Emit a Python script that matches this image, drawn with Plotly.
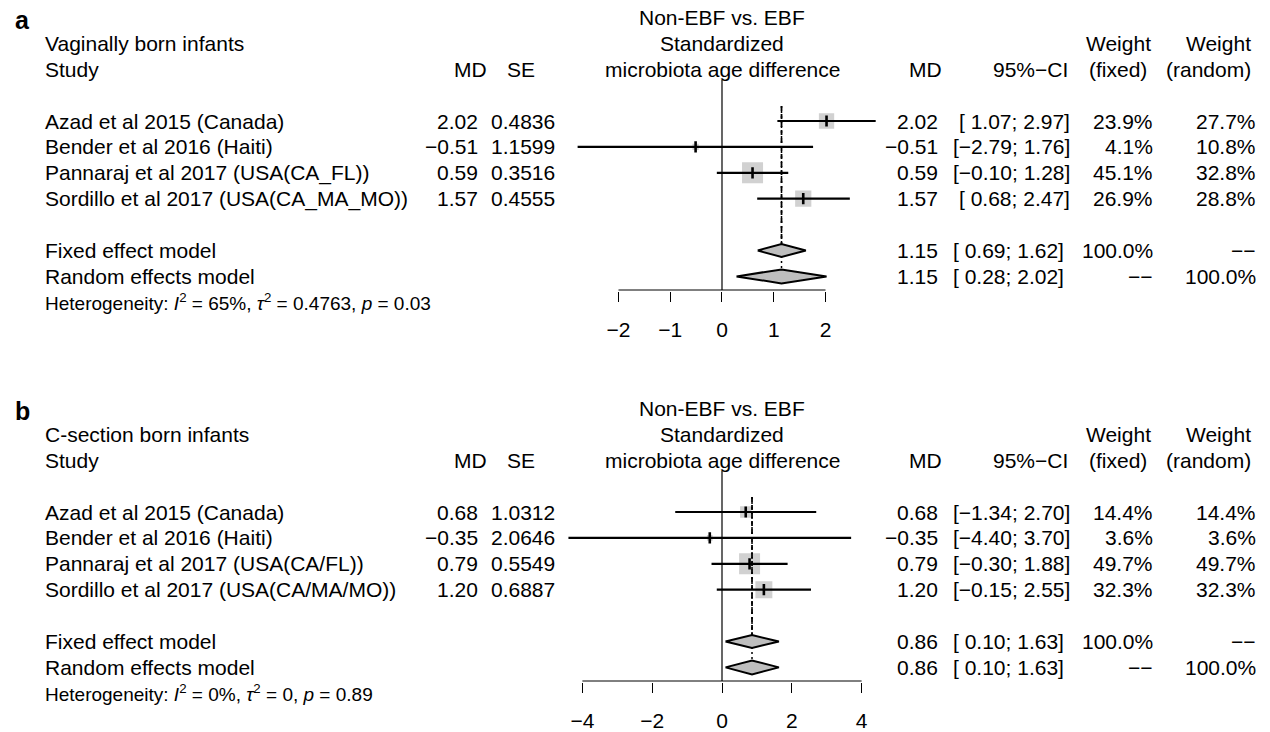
import math
import plotly.graph_objects as go

W, H = 1270, 732
FONT = "Liberation Sans, Arial, sans-serif"
GREY = "#BEBEBE"

# ---------------- data ----------------
studies_a = ["Azad et al 2015 (Canada)", "Bender et al 2016 (Haiti)",
             "Pannaraj et al 2017 (USA(CA_FL))", "Sordillo et al 2017 (USA(CA_MA_MO))"]
md_a = [2.02, -0.51, 0.59, 1.57]
se_a = [0.4836, 1.1599, 0.3516, 0.4555]
lo_a = [1.07, -2.79, -0.10, 0.68]
hi_a = [2.97, 1.76, 1.28, 2.47]
wfix_a = [23.9, 4.1, 45.1, 26.9]
wran_a = [27.7, 10.8, 32.8, 28.8]
pooled_md_a = [1.15, 1.15]          # fixed, random
pooled_lo_a = [0.69, 0.28]
pooled_hi_a = [1.62, 2.02]
het_a = {"I2": "65%", "tau2": "0.4763", "p": "0.03"}

studies_b = ["Azad et al 2015 (Canada)", "Bender et al 2016 (Haiti)",
             "Pannaraj et al 2017 (USA(CA/FL))", "Sordillo et al 2017 (USA(CA/MA/MO))"]
md_b = [0.68, -0.35, 0.79, 1.20]
se_b = [1.0312, 2.0646, 0.5549, 0.6887]
lo_b = [-1.34, -4.40, -0.30, -0.15]
hi_b = [2.70, 3.70, 1.88, 2.55]
wfix_b = [14.4, 3.6, 49.7, 32.3]
wran_b = [14.4, 3.6, 49.7, 32.3]
pooled_md_b = [0.86, 0.86]
pooled_lo_b = [0.10, 0.10]
pooled_hi_b = [1.63, 1.63]
het_b = {"I2": "0%", "tau2": "0", "p": "0.89"}

ticks_a = [-2, -1, 0, 1, 2]
ticks_b = [-4, -2, 0, 2, 4]
ticklabels_a = ["−2", "−1", "0", "1", "2"]
ticklabels_b = ["−4", "−2", "0", "2", "4"]

model_labels = ["Fixed effect model", "Random effects model"]

# ---------------- layout geometry (pixels) ----------------
ROW0 = 121.0        # first study row centre within a panel
ROWH = 25.9         # row pitch
ZERO_PX = 722.0     # x pixel of the null line
PLOT_TOP = 80.0     # top of the forest area
AXIS_PX = 290.0     # axis line


def fmt(v, nd=2):
    s = f"{v:.{nd}f}"
    return s.replace("-", "−")


def ci_txt(lo, hi):
    lo_s = fmt(lo)
    if lo >= 0:
        lo_s = " " + lo_s
    return f"[{lo_s}; {fmt(hi)}]"


def w_txt(w):
    return "−−" if w is None else f"{w:.1f}%"


panels = [
    dict(tag="a", title="Vaginally born infants", dy=0.0, unit=51.75, xr=(-2.9, 3.1),
         studies=studies_a, md=md_a, se=se_a, lo=lo_a, hi=hi_a, wf=wfix_a, wr=wran_a,
         pmd=pooled_md_a, plo=pooled_lo_a, phi=pooled_hi_a, het=het_a,
         ticks=ticks_a, ticklabels=ticklabels_a),
    dict(tag="b", title="C-section born infants", dy=391.0, unit=34.9, xr=(-4.6, 4.3),
         studies=studies_b, md=md_b, se=se_b, lo=lo_b, hi=hi_b, wf=wfix_b, wr=wran_b,
         pmd=pooled_md_b, plo=pooled_lo_b, phi=pooled_hi_b, het=het_b,
         ticks=ticks_b, ticklabels=ticklabels_b),
]

fig = go.Figure()
annotations = []
layout_axes = {}


def txt(x_px, y_px, text, anchor="left", size=21, bold=False):
    annotations.append(dict(
        x=x_px / W, y=1 - y_px / H, xref="paper", yref="paper",
        text=f"<b>{text}</b>" if bold else text, showarrow=False,
        xanchor=anchor, yanchor="middle",
        font=dict(family=FONT, size=size, color="black")))


for i, p in enumerate(panels):
    xa = "x" if i == 0 else f"x{i + 1}"
    ya = "y" if i == 0 else f"y{i + 1}"
    dy = p["dy"]

    def row_px(r):
        return dy + ROW0 + ROWH * r

    r_top = (PLOT_TOP - ROW0) / ROWH
    r_axis = (AXIS_PX - ROW0) / ROWH
    r_bot = (AXIS_PX + 1 - ROW0) / ROWH

    x0 = ZERO_PX + p["unit"] * p["xr"][0]
    x1 = ZERO_PX + p["unit"] * p["xr"][1]
    layout_axes["xaxis" if i == 0 else f"xaxis{i + 1}"] = dict(
        domain=[x0 / W, x1 / W], range=list(p["xr"]), anchor=ya,
        showgrid=False, zeroline=False, showline=False,
        ticks="outside", ticklen=10, tickwidth=1, tickcolor="black",
        tickvals=p["ticks"], ticktext=p["ticklabels"], ticklabelstandoff=10,
        tickfont=dict(family=FONT, size=21, color="black"), fixedrange=True)
    layout_axes["yaxis" if i == 0 else f"yaxis{i + 1}"] = dict(
        domain=[1 - (dy + AXIS_PX + 1) / H, 1 - (dy + PLOT_TOP) / H],
        range=[r_bot, r_top], anchor=xa, visible=False, fixedrange=True)

    n = len(p["studies"])
    rows = list(range(n))
    pooled_rows = [n + 1, n + 2]

    # null line and axis baseline
    fig.add_trace(go.Scatter(x=[0, 0], y=[r_top, r_axis], mode="lines",
                             line=dict(color="black", width=1.2), xaxis=xa, yaxis=ya,
                             hoverinfo="skip"))
    fig.add_trace(go.Scatter(x=[p["ticks"][0], p["ticks"][-1]], y=[r_axis, r_axis],
                             mode="lines", line=dict(color="black", width=1),
                             xaxis=xa, yaxis=ya, hoverinfo="skip"))

    # study squares (area ~ fixed-effect weight)
    wmax = max(p["wf"])
    sizes = [21 * math.sqrt(w / wmax) for w in p["wf"]]
    fig.add_trace(go.Scatter(x=p["md"], y=rows, mode="markers",
                             marker=dict(symbol="square", size=sizes, color=GREY,
                                         line=dict(width=0)),
                             xaxis=xa, yaxis=ya, hoverinfo="skip"))

    # pooled estimate reference lines: fixed (dashed) and random (dotted)
    dash_top = -0.58
    fig.add_trace(go.Scatter(x=[p["pmd"][0]] * 2, y=[dash_top, pooled_rows[0] - 0.25],
                             mode="lines", line=dict(color="black", width=1.8, dash="5px,3px"),
                             xaxis=xa, yaxis=ya, hoverinfo="skip"))
    fig.add_trace(go.Scatter(x=[p["pmd"][1]] * 2, y=[dash_top, pooled_rows[1] - 0.27],
                             mode="lines", line=dict(color="black", width=1.5, dash="2px,3px"),
                             xaxis=xa, yaxis=ya, hoverinfo="skip"))

    # confidence intervals
    cx, cy = [], []
    for lo, hi, r in zip(p["lo"], p["hi"], rows):
        cx += [lo, hi, None]
        cy += [r, r, None]
    fig.add_trace(go.Scatter(x=cx, y=cy, mode="lines", line=dict(color="black", width=2.2),
                             xaxis=xa, yaxis=ya, hoverinfo="skip"))
    fig.add_trace(go.Scatter(x=p["md"], y=rows, mode="markers",
                             marker=dict(symbol="line-ns", size=8,
                                         line=dict(color="black", width=2.6)),
                             xaxis=xa, yaxis=ya, hoverinfo="skip"))

    # pooled diamonds
    for k, r in enumerate(pooled_rows):
        h = 0.25 if k == 0 else 0.27
        m, lo, hi = p["pmd"][k], p["plo"][k], p["phi"][k]
        fig.add_trace(go.Scatter(x=[lo, m, hi, m, lo], y=[r, r - h, r, r + h, r],
                                 mode="lines", fill="toself", fillcolor=GREY,
                                 line=dict(color="black", width=2),
                                 xaxis=xa, yaxis=ya, hoverinfo="skip"))

    # ---- text columns ----
    txt(13, dy + 20, p["tag"], size=25, bold=True)
    txt(43, row_px(-3), p["title"])
    txt(43, row_px(-2), "Study")
    txt(471, row_px(-2), "MD", anchor="center")
    txt(521, row_px(-2), "SE", anchor="center")
    txt(ZERO_PX, row_px(-4), "Non-EBF vs. EBF", anchor="center")
    txt(ZERO_PX, row_px(-3), "Standardized", anchor="center")
    txt(ZERO_PX, row_px(-2), "microbiota age difference", anchor="center")
    txt(926, row_px(-2), "MD", anchor="center")
    txt(1070, row_px(-2), "95%−CI", anchor="right")
    txt(1118, row_px(-3), "Weight", anchor="center")
    txt(1118, row_px(-2), "(fixed)", anchor="center")
    txt(1253, row_px(-3), "Weight", anchor="right")
    txt(1253, row_px(-2), "(random)", anchor="right")

    for j, r in enumerate(rows):
        y = row_px(r)
        txt(43, y, p["studies"][j])
        txt(480, y, fmt(p["md"][j]), anchor="right")
        txt(557, y, fmt(p["se"][j], 4), anchor="right")
        txt(940, y, fmt(p["md"][j]), anchor="right")
        txt(1072, y, ci_txt(p["lo"][j], p["hi"][j]), anchor="right")
        txt(1155, y, w_txt(p["wf"][j]), anchor="right")
        txt(1258, y, w_txt(p["wr"][j]), anchor="right")

    pooled_wf = [100.0, None]
    pooled_wr = [None, 100.0]
    for k, r in enumerate(pooled_rows):
        y = row_px(r)
        txt(43, y, model_labels[k])
        txt(940, y, fmt(p["pmd"][k]), anchor="right")
        txt(1066, y, ci_txt(p["plo"][k], p["phi"][k]), anchor="right")
        txt(1155, y, w_txt(pooled_wf[k]), anchor="right")
        txt(1258, y, w_txt(pooled_wr[k]), anchor="right")

    het = p["het"]
    txt(43, row_px(n + 3),
        f"Heterogeneity: <i>I</i><sup>2</sup> = {het['I2']}, <i>τ</i><sup>2</sup> = "
        f"{het['tau2']}, <i>p</i> = {het['p']}", size=19)

fig.update_layout(
    width=W, height=H, autosize=False,
    margin=dict(l=0, r=0, t=0, b=0),
    paper_bgcolor="white", plot_bgcolor="white",
    showlegend=False, annotations=annotations,
    **layout_axes)

fig.write_html("out.html", config={"displayModeBar": False})
